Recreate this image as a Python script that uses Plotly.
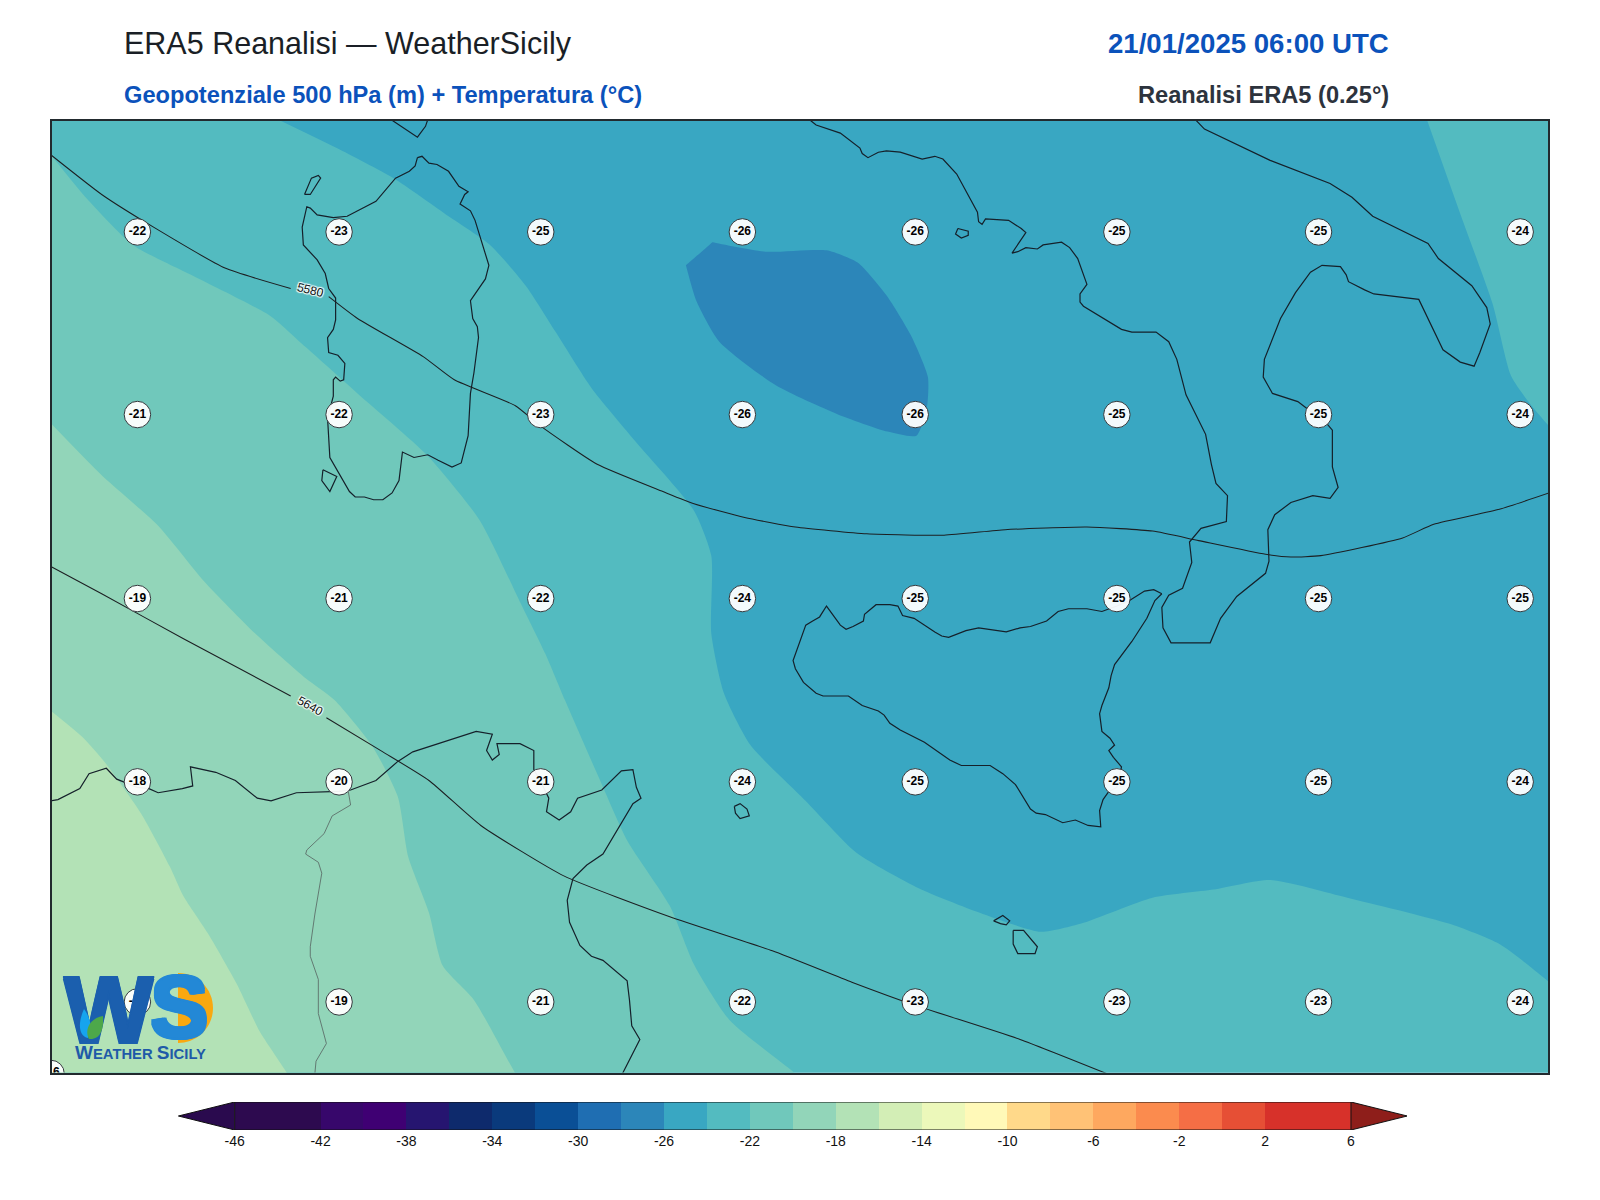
import plotly.graph_objects as go

# ---------- colour scale ----------
LEVELS = list(range(-46, 6, 2))
LEVEL_COLORS = ["#2d0a4f", "#2d0a4f", "#37076b", "#3f0073", "#261570", "#0e2a6c", "#0a3a7c", "#0a4f96",
                "#1f6eb2", "#2c86b9", "#39a7c2", "#53bbc0", "#70c8bb", "#92d5b9", "#b3e2b6", "#d3eeb6",
                "#ecf8ba", "#fff9b8", "#ffd98a", "#ffc276", "#fea85f", "#fb8b4e", "#f56e45", "#e64f35",
                "#d7312a", "#d7312a"]
UNDER_COLOR = "#2a0a4e"
OVER_COLOR = "#8e1e1a"
CBAR_TICKS = list(range(-46, 7, 4))

# ---------- temperature bands (lon / lat of the isotherm outlines) ----------
T26_BG_LON = [5.0, 20.0, 20.0, 5.0]
T26_BG_LAT = [34.0, 34.0, 43.0, 43.0]
T24_LON = [7.97, 8.48, 8.97, 9.45, 9.81, 10.12, 10.38, 10.69, 11.05, 11.58, 11.73, 11.73, 11.84, 12.07, 12.55, 12.99,
           13.53, 14.06, 14.59, 14.94, 15.56, 16.09, 16.58, 17.25, 18.13, 18.57, 19.0, 19.6, 20.0, 5.0, 5.0, 7.2]
T24_LAT = [42.0, 41.79, 41.57, 41.29, 41.08, 40.78, 40.44, 40.03, 39.66, 39.13, 38.80, 38.23, 37.79, 37.41, 37.0, 36.62,
           36.36, 36.18, 36.04, 36.10, 36.29, 36.35, 36.42, 36.29, 36.10, 35.95, 35.67, 35.2, 34.0, 34.0, 43.0, 42.6]
T24E_LON = [17.94, 18.25, 18.51, 18.67, 18.83, 19.0, 19.5, 20.0, 17.6]
T24E_LAT = [42.0, 41.26, 40.65, 40.12, 39.92, 39.75, 39.3, 43.0, 43.0]
T22_LON = [6.0, 6.31, 6.71, 7.24, 7.90, 8.21, 8.66, 9.26, 9.72, 10.07, 10.29, 10.46, 10.76, 11.00, 11.37, 11.58, 11.89, 12.46, 13.0, 5.0, 5.0]
T22_LAT = [41.74, 41.42, 41.08, 40.85, 40.56, 40.33, 39.99, 39.54, 39.06, 38.46, 38.08, 37.74, 37.16, 36.71, 36.23, 35.80, 35.39, 35.0, 34.6, 34.0, 42.5]
T20_LON = [6.0, 6.44, 6.93, 7.33, 7.77, 8.21, 8.46, 8.79, 9.01, 9.10, 9.28, 9.40, 9.67, 10.03, 10.4, 5.0, 5.0]
T20_LAT = [39.77, 39.39, 39.02, 38.61, 38.23, 37.90, 37.74, 37.40, 37.03, 36.59, 36.18, 35.79, 35.54, 35.0, 34.5, 34.0, 40.5]
T18_LON = [6.0, 6.27, 6.47, 6.78, 7.03, 7.15, 7.36, 7.61, 7.81, 8.05, 8.3, 5.0, 5.0]
T18_LAT = [37.66, 37.47, 37.28, 36.91, 36.52, 36.30, 36.03, 35.66, 35.31, 35.0, 34.6, 34.0, 38.5]
T28_LON = [11.51, 11.51, 11.74, 11.74, 12.20, 12.73, 13.0, 13.25, 13.46, 13.61, 13.60, 13.51, 13.26, 12.82, 12.29, 11.80, 11.60, 11.51, 11.51]
T28_LAT = [40.93, 40.93, 41.10, 41.10, 41.03, 41.04, 40.95, 40.71, 40.42, 40.11, 39.88, 39.68, 39.71, 39.84, 40.05, 40.37, 40.67, 40.93, 40.93]

# ---------- coastlines ----------
SARDINIA_LON = [9.18, 9.22, 9.28, 9.35, 9.45, 9.54, 9.62, 9.59, 9.55, 9.64, 9.68, 9.80, 9.77, 9.64, 9.66, 9.70, 9.71, 9.67, 9.64, 9.62,
                9.56, 9.48, 9.36, 9.27, 9.15, 9.05, 9.02, 8.96, 8.88, 8.80, 8.72, 8.64, 8.59, 8.42, 8.40, 8.45, 8.45, 8.47, 8.51, 8.54,
                8.55, 8.49, 8.41, 8.40, 8.45, 8.47, 8.47, 8.41, 8.38, 8.31, 8.19, 8.18, 8.22, 8.25, 8.31, 8.45, 8.57, 8.82, 8.99, 9.11, 9.16, 9.18]
SARDINIA_LAT = [41.72, 41.73, 41.68, 41.67, 41.62, 41.51, 41.47, 41.45, 41.38, 41.33, 41.26, 40.93, 40.83, 40.67, 40.54, 40.48, 40.40, 40.14, 39.99, 39.68,
                39.48, 39.45, 39.50, 39.54, 39.52, 39.56, 39.35, 39.26, 39.21, 39.21, 39.23, 39.23, 39.27, 39.52, 39.81, 39.97, 40.09, 40.11, 40.08, 40.09,
                40.21, 40.27, 40.29, 40.40, 40.46, 40.53, 40.69, 40.76, 40.87, 40.97, 41.08, 41.21, 41.36, 41.35, 41.30, 41.28, 41.29, 41.40, 41.57, 41.62, 41.66, 41.72]
ASINARA_LON = [8.20, 8.25, 8.34, 8.32, 8.26, 8.20]
ASINARA_LAT = [41.45, 41.45, 41.57, 41.59, 41.57, 41.45]
SANPIETRO_LON = [8.36, 8.48, 8.42, 8.35, 8.36]
SANPIETRO_LAT = [39.43, 39.38, 39.27, 39.35, 39.43]
CORSICA_LON = [8.95, 9.18, 9.25, 9.27]
CORSICA_LAT = [42.0, 41.87, 41.95, 42.0]
SICILY_LON = [15.64, 15.57, 15.49, 15.36, 15.25, 15.12, 14.99, 14.83, 14.74, 14.64, 14.50, 14.41, 14.29, 14.05, 13.94, 13.79, 13.73, 13.67, 13.49, 13.39,
              13.35, 13.28, 13.16, 13.06, 13.05, 12.96, 12.90, 12.85, 12.73, 12.67, 12.61, 12.55, 12.44, 12.46, 12.53, 12.64, 12.70, 12.92, 13.04, 13.18,
              13.23, 13.28, 13.37, 13.58, 13.80, 13.90, 14.15, 14.26, 14.37, 14.50, 14.55, 14.63, 14.78, 14.89, 15.00, 15.11, 15.10, 15.13, 15.18, 15.25,
              15.29, 15.22, 15.18, 15.23, 15.19, 15.12, 15.10, 15.12, 15.18, 15.20, 15.23, 15.38, 15.51, 15.58, 15.64]
SICILY_LAT = [38.52, 38.55, 38.54, 38.47, 38.43, 38.39, 38.41, 38.41, 38.39, 38.32, 38.28, 38.27, 38.24, 38.27, 38.25, 38.20, 38.21, 38.24, 38.34, 38.36,
              38.43, 38.44, 38.44, 38.37, 38.32, 38.28, 38.26, 38.29, 38.43, 38.35, 38.32, 38.29, 38.03, 37.97, 37.87, 37.79, 37.77, 37.77, 37.70, 37.66,
              37.63, 37.57, 37.52, 37.43, 37.30, 37.26, 37.26, 37.20, 37.12, 36.94, 36.91, 36.90, 36.84, 36.86, 36.82, 36.81, 36.93, 37.01, 37.07, 37.10,
              37.25, 37.32, 37.37, 37.41, 37.46, 37.51, 37.64, 37.70, 37.83, 37.92, 38.00, 38.17, 38.34, 38.47, 38.52]
ITALY_LON = [12.58, 12.64, 12.85, 13.02, 13.04, 13.09, 13.18, 13.25, 13.37, 13.56, 13.67, 13.74, 13.86, 14.04, 14.05, 14.08, 14.11, 14.31, 14.42, 14.46,
             14.34, 14.39, 14.46, 14.56, 14.61, 14.77, 14.84, 14.91, 14.99, 14.93, 14.93, 14.96, 15.29, 15.38, 15.59, 15.70, 15.77, 15.85, 16.02, 16.07,
             16.11, 16.21, 16.20, 15.98, 15.88, 15.90, 15.82, 15.70, 15.64, 15.65,
             15.72, 16.06, 16.15, 16.29, 16.54, 16.57, 16.56, 16.62, 16.76, 16.95, 17.10, 17.17, 17.12, 17.12, 17.07, 16.92, 16.82, 16.60, 16.52, 16.53,
             16.67, 16.80, 16.93, 17.03, 17.19, 17.24, 17.26, 17.40, 17.48, 17.87, 18.08, 18.23, 18.35, 18.40, 18.49, 18.46, 18.33, 18.04, 17.95, 17.47,
             17.29, 17.10, 16.58, 16.01, 15.93]
ITALY_LAT = [42.0, 41.96, 41.90, 41.79, 41.75, 41.72, 41.76, 41.77, 41.76, 41.71, 41.73, 41.71, 41.60, 41.32, 41.25, 41.23, 41.27, 41.26, 41.20, 41.17,
             41.02, 41.03, 41.06, 41.05, 41.08, 41.10, 41.06, 40.98, 40.79, 40.72, 40.66, 40.63, 40.46, 40.44, 40.44, 40.37, 40.24, 39.98, 39.69, 39.47,
             39.33, 39.24, 39.05, 39.00, 38.90, 38.75, 38.56, 38.51, 38.42, 38.27,
             38.16, 38.16, 38.34, 38.50, 38.67, 38.76, 38.99, 39.10, 39.19, 39.24, 39.22, 39.30, 39.45, 39.72, 39.77, 39.87, 39.93, 39.99, 40.11, 40.24,
             40.54, 40.73, 40.88, 40.93, 40.92, 40.86, 40.81, 40.75, 40.72, 40.68, 40.31, 40.22, 40.19, 40.29, 40.50, 40.62, 40.78, 40.98, 41.09, 41.29,
             41.43, 41.53, 41.70, 41.93, 42.0]
PONZA_LON = [13.87, 13.96, 13.96, 13.90, 13.85, 13.87]
PONZA_LAT = [41.20, 41.18, 41.15, 41.13, 41.16, 41.20]
AFRICA_LON = [6.0, 6.06, 6.25, 6.33, 6.48, 6.57, 6.75, 6.85, 6.93, 7.14, 7.23, 7.21, 7.43, 7.60, 7.79, 7.91, 8.13, 8.50, 8.60, 8.82,
              9.01, 9.14, 9.69, 9.83, 9.78, 9.83, 9.89, 9.87, 10.07, 10.19, 10.19, 10.25, 10.32, 10.30, 10.41, 10.51, 10.57, 10.78, 10.95, 11.05,
              11.08, 11.12, 11.05, 10.79, 10.65, 10.53, 10.48, 10.50, 10.59, 10.69, 10.79, 11.00, 11.02, 11.04, 11.11, 10.96]
AFRICA_LAT = [37.00, 37.01, 37.09, 37.20, 37.24, 37.16, 37.10, 37.09, 37.06, 37.09, 37.11, 37.25, 37.21, 37.15, 37.02, 37.00, 37.06, 37.07, 37.08, 37.15,
              37.29, 37.36, 37.51, 37.49, 37.37, 37.30, 37.34, 37.42, 37.42, 37.37, 37.23, 37.14, 37.02, 36.92, 36.86, 36.92, 37.02, 37.08, 37.22, 37.23,
              37.10, 37.02, 36.98, 36.61, 36.53, 36.43, 36.27, 36.11, 35.94, 35.86, 35.83, 35.68, 35.54, 35.35, 35.25, 35.0]
BORDER_LON = [8.58, 8.60, 8.44, 8.37, 8.22, 8.21, 8.32, 8.35, 8.29, 8.25, 8.25, 8.32, 8.32, 8.39, 8.30, 8.29]
BORDER_LAT = [37.07, 36.97, 36.89, 36.76, 36.64, 36.61, 36.55, 36.47, 36.17, 35.93, 35.86, 35.69, 35.44, 35.22, 35.09, 35.0]
PANTELLERIA_LON = [11.93, 11.98, 12.04, 12.06, 11.98, 11.94, 11.93]
PANTELLERIA_LAT = [36.96, 36.98, 36.94, 36.89, 36.87, 36.91, 36.96]
LINOSA_LON = [14.18, 14.26, 14.32, 14.29, 14.24, 14.18]
LINOSA_LAT = [36.12, 36.16, 36.12, 36.09, 36.10, 36.12]
MALTA_LON = [14.35, 14.44, 14.56, 14.54, 14.39, 14.35, 14.35]
MALTA_LAT = [36.05, 36.05, 35.93, 35.88, 35.88, 35.95, 36.05]

# ---------- 500 hPa geopotential ----------
Z5580_LON = [6.0, 6.44, 6.89, 7.51, 8.08, None, 8.41, 8.66, 9.23, 9.50, 10.03, 10.25, 10.74, 11.31, 11.58, 12.02, 12.46, 13.08, 13.75,
             14.28, 14.99, 15.56, 15.96, 16.54, 16.76, 17.02, 17.73, 18.00, 18.57, 19.0]
Z5580_LAT = [41.74, 41.45, 41.21, 40.91, 40.76, None, 40.70, 40.54, 40.26, 40.09, 39.90, 39.75, 39.47, 39.27, 39.18, 39.08, 39.01, 38.96, 38.95,
             38.99, 39.01, 38.98, 38.91, 38.81, 38.79, 38.80, 38.93, 39.03, 39.14, 39.26]
Z5640_LON = [6.0, 6.44, 7.15, 8.08, None, 8.39, 8.88, 9.28, 9.73, 10.45, 11.37, 12.26, 12.95, 13.50, 14.41, 15.16]
Z5640_LAT = [38.72, 38.52, 38.19, 37.77, None, 37.61, 37.36, 37.15, 36.82, 36.45, 36.15, 35.90, 35.67, 35.50, 35.25, 35.0]
Z_LABELS = ["5580", "5640"]
Z_LABEL_LON = [8.25, 8.25]
Z_LABEL_LAT = [40.75, 37.70]

# ---------- temperature labels ----------
STATION_LON = [6.75, 8.50, 10.25, 12.0, 13.50, 15.25, 17.0, 18.75]
STATION_LAT = [41.175, 39.835, 38.485, 37.14, 35.525]
STATION_T = [[-22, -23, -25, -26, -26, -25, -25, -24],
             [-21, -22, -23, -26, -26, -25, -25, -24],
             [-19, -21, -22, -24, -25, -25, -25, -25],
             [-18, -20, -21, -24, -25, -25, -25, -24],
             [-17, -19, -21, -22, -23, -23, -23, -24]]
CORNER_LON, CORNER_LAT, CORNER_T = [6.0], [35.0], [-16]

TITLE = "ERA5 Reanalisi — WeatherSicily"
SUBTITLE = "Geopotenziale 500 hPa (m) + Temperatura (°C)"
DATE = "21/01/2025 06:00 UTC"
SOURCE = "Reanalisi ERA5 (0.25°)"

FONT = "Liberation Sans"
W, H = 1600, 1200


def px(x):
    return x / W


def py(y):
    return 1 - y / H


def color_of(level):
    return LEVEL_COLORS[LEVELS.index(level)]


def thick(c, d=1.6):
    return f"{d}px 0 0 {c}, -{d}px 0 0 {c}, 0 {d}px 0 {c}, 0 -{d}px 0 {c}, {d}px {d}px 0 {c}, -{d}px -{d}px 0 {c}, {d}px -{d}px 0 {c}, -{d}px {d}px 0 {c}"


fig = go.Figure()

# filled temperature bands
fig.add_trace(go.Scatter(x=T26_BG_LON, y=T26_BG_LAT, mode="lines", fill="toself", fillcolor=color_of(-26),
                         line=dict(width=0), hoverinfo="skip", showlegend=False))
bands = [(T24_LON, T24_LAT, -24), (T24E_LON, T24E_LAT, -24), (T22_LON, T22_LAT, -22),
         (T20_LON, T20_LAT, -20), (T18_LON, T18_LAT, -18), (T28_LON, T28_LAT, -28)]
for lons, lats, lev in bands:
    fig.add_trace(go.Scatter(x=lons, y=lats, mode="lines", fill="toself", fillcolor=color_of(lev),
                             line=dict(width=0, shape="spline", smoothing=0.6), hoverinfo="skip", showlegend=False))

# coast
COAST = [(SARDINIA_LON, SARDINIA_LAT), (ASINARA_LON, ASINARA_LAT), (SANPIETRO_LON, SANPIETRO_LAT),
         (CORSICA_LON, CORSICA_LAT), (SICILY_LON, SICILY_LAT), (ITALY_LON, ITALY_LAT), (PONZA_LON, PONZA_LAT),
         (AFRICA_LON, AFRICA_LAT), (PANTELLERIA_LON, PANTELLERIA_LAT), (LINOSA_LON, LINOSA_LAT), (MALTA_LON, MALTA_LAT)]
for lons, lats in COAST:
    fig.add_trace(go.Scatter(x=lons, y=lats, mode="lines", line=dict(color="#15202a", width=1.2),
                             hoverinfo="skip", showlegend=False))
fig.add_trace(go.Scatter(x=BORDER_LON, y=BORDER_LAT, mode="lines", line=dict(color="#5c6f6a", width=0.9),
                         hoverinfo="skip", showlegend=False))

# geopotential
for lons, lats in [(Z5580_LON, Z5580_LAT), (Z5640_LON, Z5640_LAT)]:
    fig.add_trace(go.Scatter(x=lons, y=lats, mode="lines", line=dict(color="#1c1f22", width=1.05, shape="spline", smoothing=0.5),
                             connectgaps=False, hoverinfo="skip", showlegend=False))

# temperature labels
sx, sy, st = [], [], []
for lat, row in zip(STATION_LAT, STATION_T):
    for lon, t in zip(STATION_LON, row):
        sx.append(lon)
        sy.append(lat)
        st.append(str(t))
sx += CORNER_LON
sy += CORNER_LAT
st += [str(t) for t in CORNER_T]
fig.add_trace(go.Scatter(x=sx, y=sy, text=st, mode="markers+text", textposition="middle center",
                         marker=dict(size=26.5, color="rgba(255,255,255,0.94)", line=dict(color="#33393d", width=1)),
                         textfont=dict(family=FONT, size=12, color="#000000", weight="bold"),
                         hoverinfo="skip", showlegend=False))

# logo letter W sits over the map and the temperature labels, under the leaf and drop
LOGO_W = "#1b5fae"
LOGO_S = "#2388d6"
fig.add_trace(go.Scatter(x=[6.50], y=[35.40], text=["W"], mode="text", textposition="middle center",
                         textfont=dict(family=FONT, size=94, color=LOGO_W, weight="bold", shadow=thick(LOGO_W)),
                         hoverinfo="skip", showlegend=False))

# colour bar
fig.add_trace(go.Bar(x=[2] * len(LEVELS), y=[0.5] * len(LEVELS), base=LEVELS, width=1, orientation="h",
                     marker=dict(color=LEVEL_COLORS, line=dict(width=0)), xaxis="x2", yaxis="y2",
                     hoverinfo="skip", showlegend=False))
CB_LOW, CB_HIGH = LEVELS[0], LEVELS[-1] + 2
CB_EXT = 2.62
fig.add_trace(go.Scatter(x=[CB_LOW, CB_LOW - CB_EXT, CB_LOW, CB_LOW], y=[0, 0.5, 1, 0], mode="lines", fill="toself",
                         fillcolor=UNDER_COLOR, line=dict(color="#111111", width=1), xaxis="x2", yaxis="y2",
                         hoverinfo="skip", showlegend=False))
fig.add_trace(go.Scatter(x=[CB_HIGH, CB_HIGH + CB_EXT, CB_HIGH, CB_HIGH], y=[0, 0.5, 1, 0], mode="lines", fill="toself",
                         fillcolor=OVER_COLOR, line=dict(color="#111111", width=1), xaxis="x2", yaxis="y2",
                         hoverinfo="skip", showlegend=False))
fig.add_trace(go.Scatter(x=[CB_LOW, CB_HIGH, None, CB_LOW, CB_HIGH], y=[0, 0, None, 1, 1], mode="lines",
                         line=dict(color="#111111", width=1.1), xaxis="x2", yaxis="y2",
                         hoverinfo="skip", showlegend=False))

annotations = [
    dict(text=TITLE, x=px(123), y=py(44), xanchor="left", yanchor="middle", font=dict(family=FONT, size=30.5, color="#1a1f26")),
    dict(text=SUBTITLE, x=px(123), y=py(95), xanchor="left", yanchor="middle", font=dict(family=FONT, size=23.65, color="#0b52bb", weight="bold")),
    dict(text=DATE, x=px(1390), y=py(44), xanchor="right", yanchor="middle", font=dict(family=FONT, size=27.6, color="#0b52bb", weight="bold")),
    dict(text=SOURCE, x=px(1390), y=py(95), xanchor="right", yanchor="middle", font=dict(family=FONT, size=23.65, color="#2d333d", weight="bold")),
]
halo = "1px 1px 1px #fff, -1px -1px 1px #fff, 1px -1px 1px #fff, -1px 1px 1px #fff"
for text, lon, lat, ang in zip(Z_LABELS, Z_LABEL_LON, Z_LABEL_LAT, [14, 29]):
    annotations.append(dict(text=text, x=lon, y=lat, xref="x", yref="y", showarrow=False, textangle=ang,
                            font=dict(family=FONT, size=12, color="#111111", shadow=halo)))

annotations += [
    dict(text="S", x=px(179), y=py(1006), xanchor="center", yanchor="middle",
         font=dict(family=FONT, size=88, color=LOGO_S, weight="bold", shadow=thick(LOGO_S))),
    dict(text='<span style="font-size:19px">W</span>EATHER <span style="font-size:19px">S</span>ICILY', x=px(140), y=py(1052),
         xanchor="center", yanchor="middle", font=dict(family=FONT, size=14.8, color="#1f5aa8", weight="bold")),
]
for a in annotations:
    a.setdefault("xref", "paper")
    a.setdefault("yref", "paper")
    a.setdefault("showarrow", False)
    a.setdefault("borderpad", 0)


def P(x, y):
    return f"{px(x):.5f},{py(y):.5f}"


cx, cy, r = 178, 1008, 35
k = 0.5523 * r
half_disc = (f"M {P(cx, cy - r)} C {P(cx + k, cy - r)} {P(cx + r, cy - k)} {P(cx + r, cy)} "
             f"C {P(cx + r, cy + k)} {P(cx + k, cy + r)} {P(cx, cy + r)} Z")
drop = f"M {P(84, 1009)} C {P(78, 1022)} {P(78, 1036)} {P(88, 1038)} C {P(92, 1030)} {P(92, 1020)} {P(84, 1009)} Z"
leaf = f"M {P(103, 1016)} C {P(90, 1018)} {P(84, 1030)} {P(89, 1039)} C {P(100, 1040)} {P(104, 1030)} {P(103, 1016)} Z"
shapes = [
    dict(type="path", path=half_disc, xref="paper", yref="paper", fillcolor="#f9a810", line=dict(width=0), layer="above"),
    dict(type="path", path=drop, xref="paper", yref="paper", fillcolor="#16a4ee", line=dict(width=0), layer="above"),
    dict(type="path", path=leaf, xref="paper", yref="paper", fillcolor="#4da84a", line=dict(width=0), layer="above"),
]

axis_off = dict(showticklabels=False, showgrid=False, zeroline=False, ticks="")
fig.update_layout(
    width=W, height=H, autosize=False, margin=dict(l=0, r=0, t=0, b=0),
    paper_bgcolor="white", plot_bgcolor="white", barmode="overlay", bargap=0,
    font=dict(family=FONT, color="#111111"), showlegend=False, hovermode=False,
    xaxis=dict(domain=[px(52), px(1548)], range=[6.0087, 18.9913], showline=True, mirror=True, linecolor="#222a2e", linewidth=1.6, **axis_off),
    yaxis=dict(domain=[py(1072.5), py(120.5)], range=[35.0073, 41.9927], showline=True, mirror=True, linecolor="#222a2e", linewidth=1.6, **axis_off),
    xaxis2=dict(domain=[px(178), px(1407)], range=[CB_LOW - 2.64, CB_HIGH + 2.61], anchor="y2", tickmode="array", tickvals=CBAR_TICKS,
                ticktext=[str(t) for t in CBAR_TICKS], tickfont=dict(family=FONT, size=14, color="#111111"), ticklabelstandoff=1,
                showgrid=False, zeroline=False, showline=False, ticks=""),
    yaxis2=dict(domain=[py(1130), py(1102)], range=[0, 1], anchor="x2", **axis_off),
    annotations=annotations, shapes=shapes,
)

fig.write_html("out.html", config={"displayModeBar": False}, post_script="document.body.style.margin='0';")
